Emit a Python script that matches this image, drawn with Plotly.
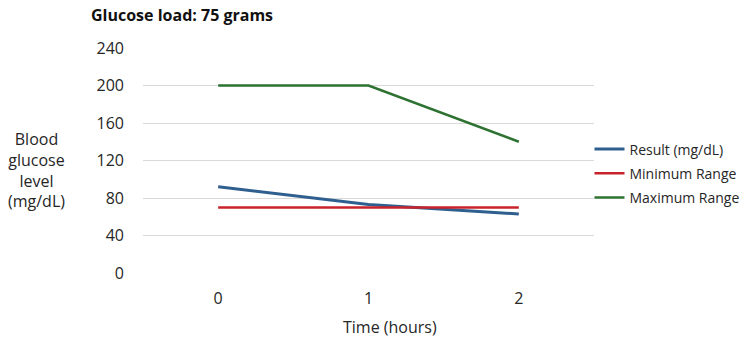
import plotly.graph_objects as go

hours = ["0", "1", "2"]
result = [92, 73, 63]
min_range = [70, 70, 70]
max_range = [200, 200, 140]
y_ticks = [0, 40, 80, 120, 160, 200, 240]

font_family = "Open Sans, Lato, sans-serif"
text_color = "#262626"

fig = go.Figure()
fig.add_trace(go.Scatter(x=hours, y=result, mode="lines", name="Result (mg/dL)",
                         legendgroup="a", line=dict(color="#2F5F8F", width=3)))
fig.add_trace(go.Scatter(x=hours, y=min_range, mode="lines", name="Minimum Range",
                         legendgroup="b", line=dict(color="#C8222B", width=2.5)))
fig.add_trace(go.Scatter(x=hours, y=max_range, mode="lines", name="Maximum Range",
                         legendgroup="c", line=dict(color="#2E7232", width=2.5)))

fig.update_layout(
    width=750, height=344,
    margin=dict(l=143, r=156, t=48, b=71, autoexpand=False),
    paper_bgcolor="white", plot_bgcolor="white",
    font=dict(family=font_family, color=text_color),
    showlegend=True,
    legend=dict(x=0.99, y=0.62, xanchor="left", yanchor="top",
                font=dict(size=14, color=text_color), traceorder="grouped",
                itemwidth=30, tracegroupgap=3, bgcolor="rgba(0,0,0,0)"),
    xaxis=dict(type="category", range=[-0.5, 2.5], showgrid=False, showline=False,
               zeroline=False, ticks="", tickfont=dict(size=16, color=text_color),
               ticklabelstandoff=14),
    yaxis=dict(range=[0, 240], tickvals=y_ticks, showgrid=True, gridcolor="#D9D9D9",
               gridwidth=1, zeroline=False, showline=False, ticks="",
               tickfont=dict(size=16, color=text_color), ticklabelstandoff=18),
    annotations=[
        dict(text="<b>Glucose load: 75 grams</b>", xref="paper", yref="paper",
             x=-0.12, y=1.0, yshift=33, xanchor="left", yanchor="middle", showarrow=False,
             font=dict(size=16, color="#111111")),
        dict(text="Blood<br>glucose<br>level<br>(mg/dL)", xref="paper", yref="paper",
             x=-0.237, y=0.46, xanchor="center", yanchor="middle", showarrow=False,
             align="center", font=dict(size=16, color=text_color)),
        dict(text="Time (hours)", xref="paper", yref="paper",
             x=0.547, y=0, yshift=-54, xanchor="center", yanchor="middle", showarrow=False,
             font=dict(size=16, color=text_color)),
    ],
)

fig.write_html("out.html")
